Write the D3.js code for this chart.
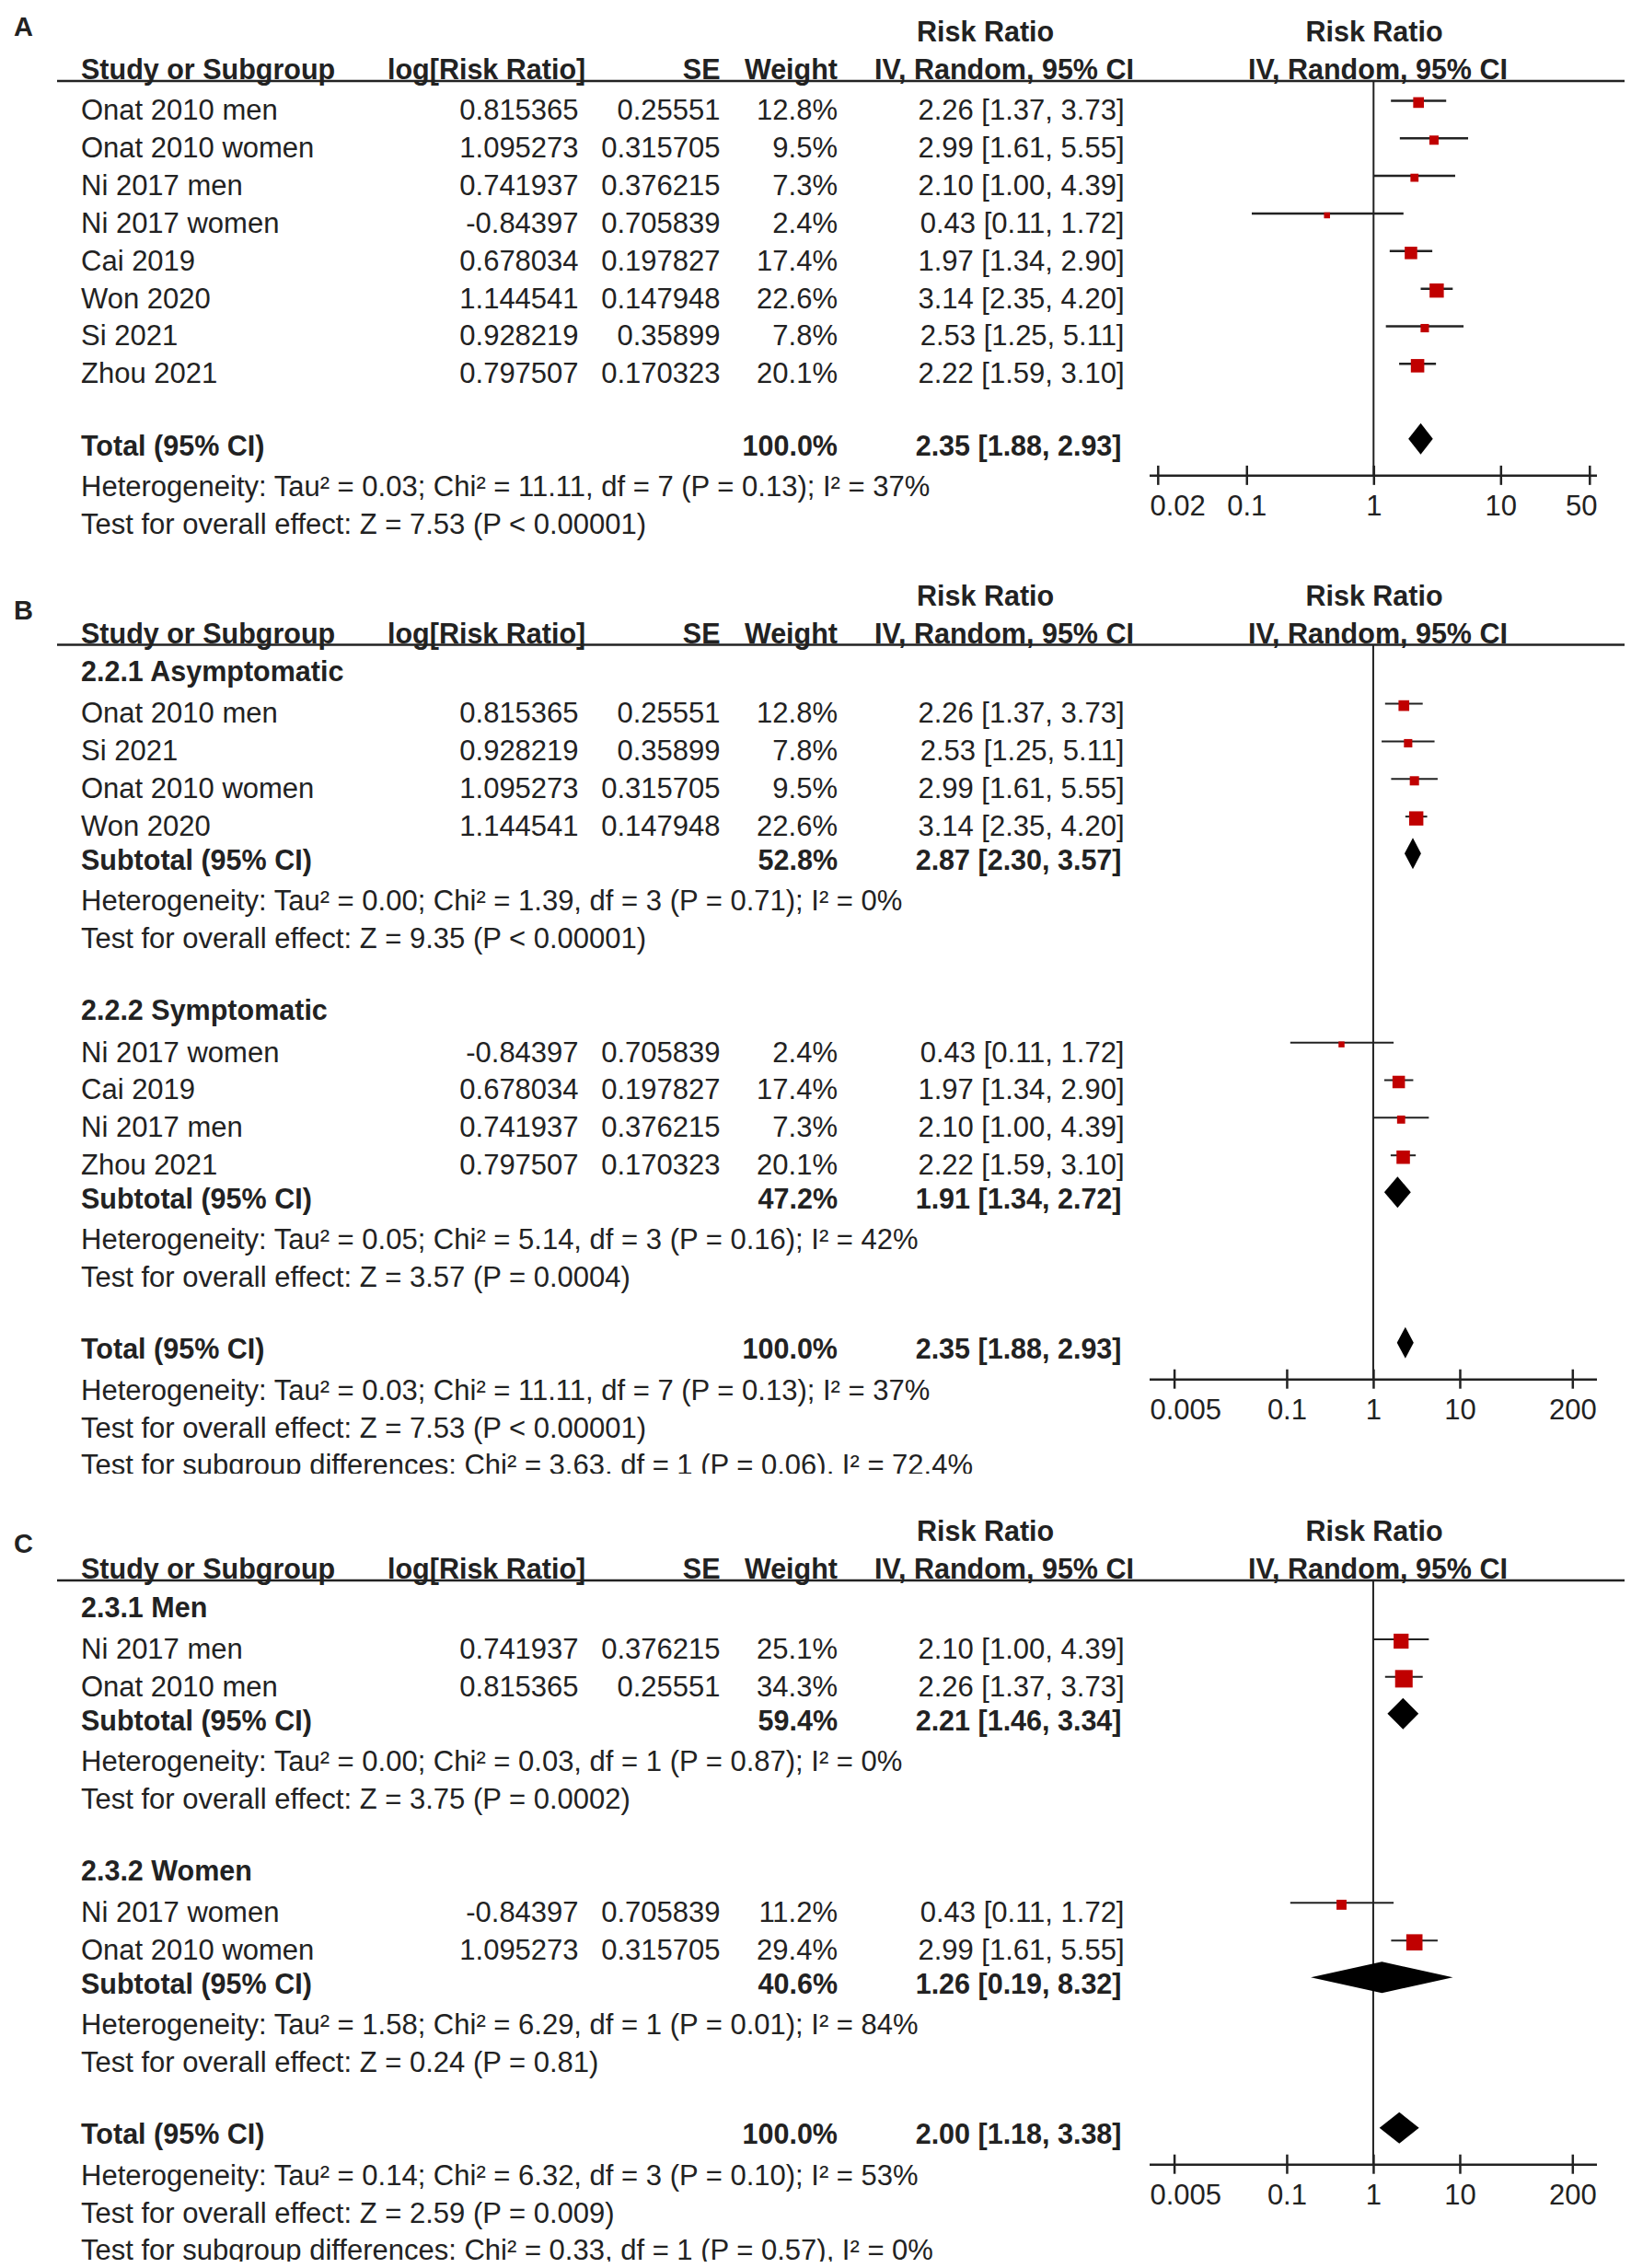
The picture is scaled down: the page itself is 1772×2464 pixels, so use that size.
<!DOCTYPE html>
<html><head><meta charset="utf-8">
<script src="https://cdn.jsdelivr.net/npm/d3@7"></script>
<style>
body{margin:0;background:#fff;}
svg text{font-family:'Liberation Sans',Arial,Helvetica,sans-serif;fill:#222;}
</style></head><body>
<svg id="c" width="1772" height="2464" xmlns="http://www.w3.org/2000/svg"></svg>
<script>
// ---------------- DATA ----------------
// Panel A
const studiesA = ["Onat 2010 men","Onat 2010 women","Ni 2017 men","Ni 2017 women","Cai 2019","Won 2020","Si 2021","Zhou 2021"];
const logRRA = ["0.815365","1.095273","0.741937","-0.84397","0.678034","1.144541","0.928219","0.797507"];
const seA = ["0.25551","0.315705","0.376215","0.705839","0.197827","0.147948","0.35899","0.170323"];
const weightA = [12.8,9.5,7.3,2.4,17.4,22.6,7.8,20.1];
const rrA = [2.26,2.99,2.10,0.43,1.97,3.14,2.53,2.22];
const loA = [1.37,1.61,1.00,0.11,1.34,2.35,1.25,1.59];
const hiA = [3.73,5.55,4.39,1.72,2.90,4.20,5.11,3.10];
const totalA = [100.0,2.35,1.88,2.93];
const statsA = ["Heterogeneity: Tau² = 0.03; Chi² = 11.11, df = 7 (P = 0.13); I² = 37%",
                "Test for overall effect: Z = 7.53 (P < 0.00001)"];
const ticksA = [0.02,0.1,1,10,50];

// Panel B
const groupLabelsB = ["2.2.1 Asymptomatic","2.2.2 Symptomatic"];
const studiesB = [["Onat 2010 men","Si 2021","Onat 2010 women","Won 2020"],["Ni 2017 women","Cai 2019","Ni 2017 men","Zhou 2021"]];
const logRRB = [["0.815365","0.928219","1.095273","1.144541"],["-0.84397","0.678034","0.741937","0.797507"]];
const seB = [["0.25551","0.35899","0.315705","0.147948"],["0.705839","0.197827","0.376215","0.170323"]];
const weightB = [[12.8,7.8,9.5,22.6],[2.4,17.4,7.3,20.1]];
const rrB = [[2.26,2.53,2.99,3.14],[0.43,1.97,2.10,2.22]];
const loB = [[1.37,1.25,1.61,2.35],[0.11,1.34,1.00,1.59]];
const hiB = [[3.73,5.11,5.55,4.20],[1.72,2.90,4.39,3.10]];
const subtotalB = [[52.8,2.87,2.30,3.57],[47.2,1.91,1.34,2.72]];
const subStatsB = [["Heterogeneity: Tau² = 0.00; Chi² = 1.39, df = 3 (P = 0.71); I² = 0%","Test for overall effect: Z = 9.35 (P < 0.00001)"],
                   ["Heterogeneity: Tau² = 0.05; Chi² = 5.14, df = 3 (P = 0.16); I² = 42%","Test for overall effect: Z = 3.57 (P = 0.0004)"]];
const totalB = [100.0,2.35,1.88,2.93];
const statsB = ["Heterogeneity: Tau² = 0.03; Chi² = 11.11, df = 7 (P = 0.13); I² = 37%",
                "Test for overall effect: Z = 7.53 (P < 0.00001)",
                "Test for subgroup differences: Chi² = 3.63, df = 1 (P = 0.06), I² = 72.4%"];
const ticksBC = [0.005,0.1,1,10,200];

// Panel C
const groupLabelsC = ["2.3.1 Men","2.3.2 Women"];
const studiesC = [["Ni 2017 men","Onat 2010 men"],["Ni 2017 women","Onat 2010 women"]];
const logRRC = [["0.741937","0.815365"],["-0.84397","1.095273"]];
const seC = [["0.376215","0.25551"],["0.705839","0.315705"]];
const weightC = [[25.1,34.3],[11.2,29.4]];
const rrC = [[2.10,2.26],[0.43,2.99]];
const loC = [[1.00,1.37],[0.11,1.61]];
const hiC = [[4.39,3.73],[1.72,5.55]];
const subtotalC = [[59.4,2.21,1.46,3.34],[40.6,1.26,0.19,8.32]];
const subStatsC = [["Heterogeneity: Tau² = 0.00; Chi² = 0.03, df = 1 (P = 0.87); I² = 0%","Test for overall effect: Z = 3.75 (P = 0.0002)"],
                   ["Heterogeneity: Tau² = 1.58; Chi² = 6.29, df = 1 (P = 0.01); I² = 84%","Test for overall effect: Z = 0.24 (P = 0.81)"]];
const totalC = [100.0,2.00,1.18,3.38];
const statsC = ["Heterogeneity: Tau² = 0.14; Chi² = 6.32, df = 3 (P = 0.10); I² = 53%",
                "Test for overall effect: Z = 2.59 (P = 0.009)",
                "Test for subgroup differences: Chi² = 0.33, df = 1 (P = 0.57), I² = 0%"];

// ---------------- LAYOUT ----------------
const FS = 31;      // regular text
const FSB = 30.5;   // bold text
const INK = "#222";
const RED = "#c00000";
const COL = {label:88, logrr:628.6, se:782.5, weight:910, ci:1221.5, ciBold:1218.5,
             hLog:421, hCI:950, hRR:996, pRRc:1493, pIVc:1497};
const AX_L = 1249, AX_R = 1735;
const STEP = 40.85;
const svg = d3.select("#c");
const fmt2 = v => v.toFixed(2);
const ciText = (rr, lo, hi) => `${fmt2(rr)} [${fmt2(lo)}, ${fmt2(hi)}]`;

function panel(cfg) {
  const root = svg.append("g");
  let g = root;
  if (cfg.clipY) {
    const id = "clip" + cfg.letter;
    root.append("clipPath").attr("id", id).append("rect")
      .attr("x", 0).attr("y", 0).attr("width", 1772).attr("height", cfg.clipY);
    g = root.append("g").attr("clip-path", `url(#${id})`);
  }
  const txt = (x, y, s, opt = {}) => g.append("text")
      .attr("x", x).attr("y", y).attr("dy", "0.35em")
      .attr("text-anchor", opt.anchor || "start")
      .style("font-size", (opt.size || (opt.bold ? FSB : FS)) + "px")
      .style("font-weight", opt.bold ? "bold" : "normal")
      .text(s);

  const top = cfg.top;           // header underline y
  const hY = top - 12.6, rY = top - 53.4;

  // panel letter
  txt(15, cfg.letterY, cfg.letter, {bold: true, size: 29});

  // headers
  txt(COL.hRR, rY, "Risk Ratio", {bold: true});
  txt(COL.pRRc, rY, "Risk Ratio", {bold: true, anchor: "middle"});
  txt(COL.label, hY, "Study or Subgroup", {bold: true});
  txt(COL.hLog, hY, "log[Risk Ratio]", {bold: true});
  txt(COL.se, hY, "SE", {bold: true, anchor: "end"});
  txt(COL.weight, hY, "Weight", {bold: true, anchor: "end"});
  txt(COL.hCI, hY, "IV, Random, 95% CI", {bold: true});
  txt(COL.pIVc, hY, "IV, Random, 95% CI", {bold: true, anchor: "middle"});
  g.append("line").attr("x1", 62).attr("x2", 1765).attr("y1", top).attr("y2", top)
    .attr("stroke", INK).attr("stroke-width", 2.5);

  // build rows
  const rows = [];
  let y;
  if (!cfg.groups) {
    y = top + 31.4;
    cfg.studies.forEach((s, i) => { rows.push({t: "study", y, g: 0, i}); y += STEP; });
    y += 78.5 - STEP;
  } else {
    y = top + 29;
    cfg.groups.forEach((lab, gi) => {
      if (gi > 0) y += 78.5;
      rows.push({t: "head", y, text: lab});
      y += 45;
      cfg.studies[gi].forEach((s, i) => { rows.push({t: "study", y, g: gi, i}); y += STEP; });
      y += 37 - STEP;
      rows.push({t: "sub", y, g: gi});
      y += 44; rows.push({t: "note", y, text: cfg.subStats[gi][0]});
      y += 41; rows.push({t: "note", y, text: cfg.subStats[gi][1]});
    });
    y += 78.5;
  }
  const totalY = y;
  rows.push({t: "total", y: totalY});
  rows.push({t: "note", y: totalY + 44, text: cfg.stats[0]});
  rows.push({t: "note", y: totalY + 85, text: cfg.stats[1]});
  if (cfg.stats[2]) rows.push({t: "note", y: totalY + 125, text: cfg.stats[2]});
  const axisY = totalY + 33;

  // scale
  const x = d3.scaleLog().domain(cfg.domain).range(cfg.range);
  const pick = (arr, r) => cfg.groups ? arr[r.g][r.i] : arr[r.i];

  // line of no effect
  g.append("line").attr("x1", x(1)).attr("x2", x(1)).attr("y1", top).attr("y2", axisY)
    .attr("stroke", INK).attr("stroke-width", 2);

  rows.forEach(r => {
    if (r.t === "head") {
      txt(COL.label, r.y, r.text, {bold: true});
    } else if (r.t === "note") {
      txt(COL.label, r.y, r.text);
    } else if (r.t === "study") {
      const w = pick(cfg.weight, r), rr = pick(cfg.rr, r), lo = pick(cfg.lo, r), hi = pick(cfg.hi, r);
      txt(COL.label, r.y, pick(cfg.studies, r));
      txt(COL.logrr, r.y, pick(cfg.logRR, r), {anchor: "end"});
      txt(COL.se, r.y, pick(cfg.se, r), {anchor: "end"});
      txt(COL.weight, r.y, w.toFixed(1) + "%", {anchor: "end"});
      txt(COL.ci, r.y, ciText(rr, lo, hi), {anchor: "end"});
      g.append("line").attr("x1", x(lo)).attr("x2", x(hi)).attr("y1", r.y - 10).attr("y2", r.y - 10)
        .attr("stroke", INK).attr("stroke-width", cfg.lw);
      const s = Math.max(6.5, 3.25 * Math.sqrt(w));
      g.append("rect").attr("x", x(rr) - s / 2).attr("y", r.y - 8 - s / 2)
        .attr("width", s).attr("height", s).attr("fill", RED);
    } else if (r.t === "sub" || r.t === "total") {
      const v = r.t === "sub" ? cfg.subtotal[r.g] : cfg.total;
      txt(COL.label, r.y, r.t === "sub" ? "Subtotal (95% CI)" : "Total (95% CI)", {bold: true});
      txt(COL.weight, r.y, v[0].toFixed(1) + "%", {bold: true, anchor: "end"});
      txt(COL.ciBold, r.y, ciText(v[1], v[2], v[3]), {bold: true, anchor: "end"});
      const yc = r.y - 7, hh = 17;
      g.append("path")
        .attr("d", `M${x(v[2])},${yc}L${x(v[1])},${yc - hh}L${x(v[3])},${yc}L${x(v[1])},${yc + hh}Z`)
        .attr("fill", "#000");
    }
  });

  // axis
  g.append("line").attr("x1", AX_L).attr("x2", AX_R).attr("y1", axisY).attr("y2", axisY)
    .attr("stroke", INK).attr("stroke-width", 2.5);
  const axis = d3.axisBottom(x).tickValues(cfg.ticks).tickFormat(d => String(d)).tickSizeOuter(0);
  const ag = g.append("g").attr("transform", `translate(0,${axisY})`).call(axis);
  ag.attr("font-size", null).attr("font-family", null);
  ag.select(".domain").remove();
  ag.selectAll(".tick line").attr("y1", -11).attr("y2", 10).attr("stroke", INK).attr("stroke-width", 2.5);
  ag.selectAll(".tick text").attr("y", 32).attr("dy", "0.35em").style("font-size", FS + "px")
    .each(function(d) {
      const w = this.getComputedTextLength();
      let c = x(d);
      if (c - w / 2 < AX_L) c = AX_L + w / 2;
      if (c + w / 2 > AX_R) c = AX_R - w / 2;
      d3.select(this).attr("x", c - x(d));
    });
}

panel({letter: "A", letterY: 29, top: 88, lw: 2.5,
  studies: studiesA, logRR: logRRA, se: seA, weight: weightA, rr: rrA, lo: loA, hi: hiA,
  total: totalA, stats: statsA, ticks: ticksA, domain: [0.02, 50], range: [1257.8, 1726.8]});

panel({letter: "B", letterY: 663, top: 700.6, lw: 2, clipY: 1601,
  groups: groupLabelsB, studies: studiesB, logRR: logRRB, se: seB, weight: weightB, rr: rrB, lo: loB, hi: hiB,
  subtotal: subtotalB, subStats: subStatsB, total: totalB, stats: statsB,
  ticks: ticksBC, domain: [0.005, 200], range: [1275.6, 1708.3]});

panel({letter: "C", letterY: 1677, top: 1717, lw: 2, clipY: 2457,
  groups: groupLabelsC, studies: studiesC, logRR: logRRC, se: seC, weight: weightC, rr: rrC, lo: loC, hi: hiC,
  subtotal: subtotalC, subStats: subStatsC, total: totalC, stats: statsC,
  ticks: ticksBC, domain: [0.005, 200], range: [1275.6, 1708.3]});
</script>
</body></html>
